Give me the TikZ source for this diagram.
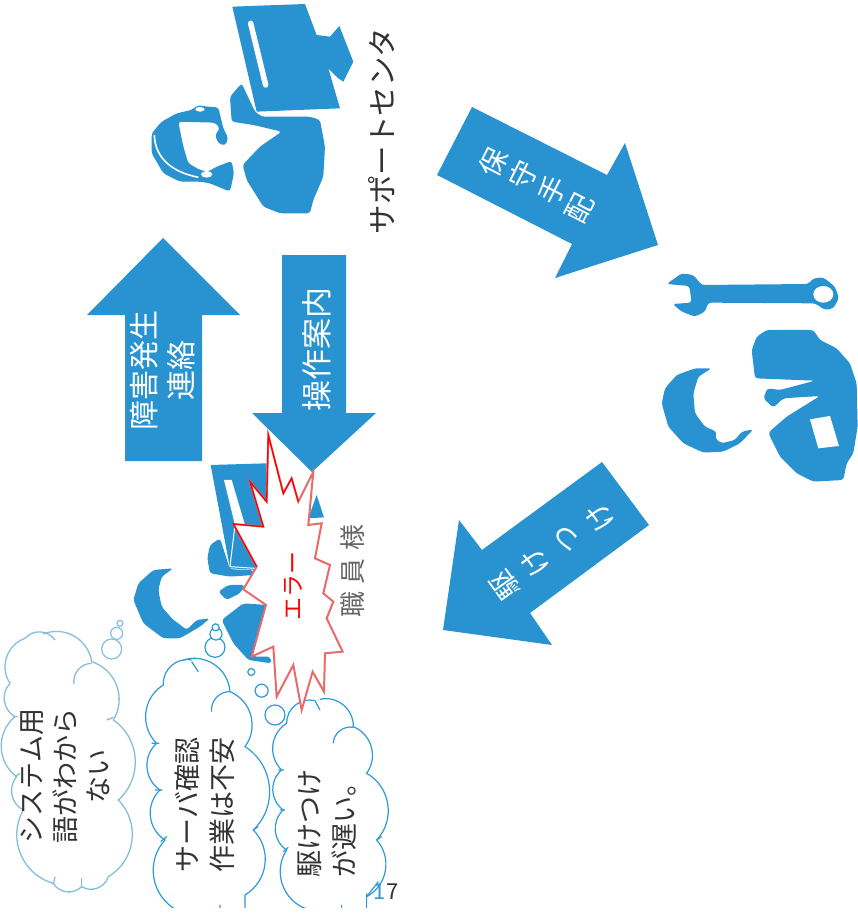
\documentclass[tikz,border=0pt]{standalone}
\usepackage{fontspec}
\setmainfont{Noto Sans CJK JP}
\definecolor{iconblue}{HTML}{2993D1}
\definecolor{cloudblue}{HTML}{2E9BD6}
\definecolor{paleblue}{HTML}{86BEDA}
\definecolor{burstpink}{HTML}{E96A6A}
\definecolor{inkgray}{HTML}{333333}
\newcommand{\fs}[1]{\fontsize{#1}{#1}\selectfont}
\tikzset{
  icon/.style={fill=iconblue,draw=none,rounded corners=3pt},
  lobe/.style={bend left=52,looseness=1.05},
  cloudline/.style={draw=cloudblue,line width=1.2pt,fill=none},
  paleline/.style={draw=paleblue,line width=1.3pt,fill=none},
  bubble/.style={circle,inner sep=0pt,fill=white,line width=1.2pt},
  labeltxt/.style={inner sep=0pt,rotate=90,align=center},
}
\begin{document}
\begin{tikzpicture}[x=1pt,y=-1pt]
\useasboundingbox (0,0) rectangle (858,920);
\fill[white] (0,0) rectangle (858,920);

% ---- big arrows
\fill[iconblue] (163,238) -- (240,315) -- (202,315) -- (202,461) -- (125,461) -- (125,315) -- (87,315) -- cycle;
\fill[iconblue] (282,255) -- (346,255) -- (346,413) -- (376,413) -- (312,472) -- (252,413) -- (282,413) -- cycle;
\fill[iconblue] (472,107) -- (607,175) -- (625,143) -- (658,245) -- (555,278) -- (572,244) -- (437,175) -- cycle;
\fill[iconblue] (602,462) -- (649,525) -- (530,613) -- (552,645) -- (443,630) -- (459,520) -- (482,550) -- cycle;

% ---- support centre icon
\begin{scope}[shift={(120,0)},x=.3333pt,y=-.3333pt]
\fill[iconblue] (337,20) -- (555,12) -- (590,105) -- (630,110) -- (658,78) -- (700,185) -- (670,245) -- (655,235) -- (625,205) -- (660,325) -- (410,335) -- cycle;
\draw[white,line width=5.5pt,line cap=round] (392,70) -- (437,255);
\fill[icon] (330,290) -- (365,250) -- (405,335) -- (425,350) -- (570,350) -- (600,360) -- (615,440) -- (610,530) -- (580,600) -- (570,640) -- (480,640) -- (430,620) -- (380,540) -- (368,495) -- (420,440) -- (485,395) -- (400,375) -- (335,365) -- cycle;
\fill[icon] (215,330) -- (235,315) -- (260,320) -- (295,322) -- (310,385) -- (325,415) -- (315,437) -- (295,430) -- (285,405) -- (300,385) -- (285,368) -- (175,365) -- (190,440) -- (205,490) -- (240,510) -- (265,515) -- (290,500) -- (335,483) -- (342,520) -- (330,575) -- (270,550) -- (240,545) -- (180,545) -- (130,520) -- (95,460) -- (95,400) -- (125,365) -- (170,340) -- cycle;
\fill[white] (260,523) ellipse (17 and 10);
\fill[white] (240,328) ellipse (14 and 7);
\draw[white,line width=1.6pt] (103,405) .. controls (105,470) and (150,515) .. (235,532);
\end{scope}

% ---- technician icon
\begin{scope}[shift={(640,260)},x=.3333pt,y=-.3333pt]
\fill[icon] (80,72) -- (125,40) -- (160,45) -- (185,75) -- (505,72) -- (520,55) -- (550,52) -- (585,80) -- (597,115) -- (580,145) -- (555,150) -- (525,130) -- (205,128) -- (195,155) -- (165,170) -- (125,155) -- (98,132) -- (155,128) -- (148,78) -- cycle;
\fill[white] (550,103) ellipse (30 and 25);
\fill[icon] (215,325) -- (165,325) -- (110,345) -- (75,385) -- (65,430) -- (85,500) -- (130,550) -- (190,578) -- (250,575) -- (300,550) -- (340,508) -- (305,515) -- (285,540) -- (245,550) -- (225,535) -- (230,515) -- (195,500) -- (165,460) -- (160,400) -- (175,350) -- cycle;
\fill[icon] (335,270) -- (350,230) -- (380,210) -- (520,210) -- (540,240) -- (590,265) -- (630,310) -- (650,370) -- (653,500) -- (640,580) -- (620,610) -- (610,660) -- (520,665) -- (470,640) -- (420,590) -- (395,540) -- (385,518) -- (440,470) -- (540,408) -- (430,415) -- (400,443) -- (370,415) -- (382,385) -- (420,390) -- (525,362) -- (345,355) -- cycle;
\fill[white] (510,478) -- (570,468) -- (597,558) -- (535,565) -- cycle;
\end{scope}

% ---- operator icon under the burst
\begin{scope}[shift={(120,430)},x=.3333pt,y=-.3333pt]
\fill[iconblue] (272,105) -- (440,100) -- (440,300) -- (410,420) -- (330,415) -- cycle;
\fill[white] (312,150) -- (335,150) -- (375,285) -- (345,285) -- cycle;
\draw[white,line width=1pt] (345,285) -- (330,410) -- (405,415);
\fill[icon] (300,325) -- (270,345) -- (262,385) -- (270,430) -- (330,440) -- (400,435) -- (400,420) -- (330,418) -- cycle;
\fill[icon] (295,485) -- (325,465) -- (375,465) -- (360,490) -- (320,510) -- cycle;
\fill[icon] (305,570) -- (370,520) -- (440,525) -- (400,680) -- (450,680) -- (455,700) -- (385,690) -- (340,640) -- cycle;
\fill[iconblue] (590,195) -- (612,262) -- (565,265) -- cycle;
\fill[icon] (160,415) -- (100,420) -- (55,460) -- (40,510) -- (70,580) -- (130,625) -- (180,625) -- (240,590) -- (270,565) -- (230,570) -- (200,600) -- (175,580) -- (160,570) -- (125,530) -- (115,480) -- (125,440) -- cycle;
\end{scope}

% ---- thought clouds and page number
\node[inner sep=0pt] (pageno) at (386,892) {\fs{22}\textcolor{cloudblue}{1}\textcolor{inkgray}{7}};
\begin{scope}[shift={(0,610)},x=.3333pt,y=-.3333pt]
% left cloud
\draw[paleline] (160,820) to[lobe] (70,600) to[lobe] (50,500) to[lobe] (45,320) to[lobe] (30,220) to[lobe] (75,85) to[lobe] (165,90);
\draw[paleline] (130,72) to[lobe] (275,155) to[lobe] (340,330) to[lobe] (355,570) to[lobe] (325,800) to[lobe] (245,830) to[lobe] (160,820);
\draw[paleline] (222,222) to[bend left=50] (275,160);
\draw[paleline] (320,330) -- (340,322);
\draw[paleline] (38,320) -- (55,320);
\draw[paleline] (45,500) -- (60,490);
\draw[paleline] (165,800) -- (160,825);
\draw[paleline] (245,805) -- (245,835);
\node[bubble,draw=paleblue,minimum size=20pt] (b1) at (335,117) {};
\node[bubble,draw=paleblue,minimum size=12pt] (b2) at (350,70) {};
\node[bubble,draw=paleblue,minimum size=6pt] (b3) at (360,40) {};
% middle cloud
\draw[cloudline] (530,900) to[lobe] (495,690) to[lobe] (480,540) to[lobe] (470,400) to[lobe] (490,225) to[lobe] (575,150);
\draw[cloudline] (550,150) to[lobe] (690,245) to[lobe] (735,410) to[lobe] (760,660) to[lobe] (735,855);
\draw[cloudline] (635,305) to[bend left=50] (690,245);
\draw[cloudline] (735,855) -- (735,900) (575,155) -- (595,185) (455,400) -- (478,400) (465,540) -- (487,540) (482,695) -- (500,680) (760,660) -- (775,650) (660,885) -- (660,900);
\node[bubble,draw=cloudblue,minimum size=20pt] (c1) at (645,112) {};
\node[bubble,draw=cloudblue,minimum size=12pt] (c2) at (648,72) {};
\node[bubble,draw=cloudblue,minimum size=7pt] (c3) at (647,52) {};
% right cloud
\draw[cloudline] (920,897) to[lobe] (860,720) to[lobe] (850,600) to[lobe] (845,480) to[lobe] (860,340) to[lobe] (945,272);
\draw[cloudline] (960,268) to[lobe] (1060,350) to[lobe] (1100,490) to[lobe] (1130,690) to[lobe] (1100,860);
\draw[cloudline] (1000,400) to[bend left=50] (1060,352);
\draw[cloudline] (1100,850) -- (1100,900) (1100,860) -- (1135,815) (945,272) -- (960,300) (835,480) -- (852,480) (840,600) -- (855,600) (850,725) -- (865,712) (1130,690) -- (1145,680) (1025,885) -- (1025,900);
\node[bubble,draw=cloudblue,minimum size=20pt] (d1) at (825,315) {};
\node[bubble,draw=cloudblue,minimum size=13pt] (d2) at (785,242) {};
\node[bubble,draw=cloudblue,minimum size=7pt] (d3) at (754,186) {};
\end{scope}
\fill[white] (0,908) rectangle (375,920);

% ---- burst
\begin{scope}[shift={(120,430)},x=.3333pt,y=-.3333pt]
\filldraw[fill=white,draw=burstpink,line width=2pt,line join=miter] (445,15) -- (490,190) -- (515,145) -- (535,215) -- (580,125) -- (565,285) -- (605,280) -- (585,385) -- (630,405) -- (610,490) -- (640,515) -- (620,565) -- (668,665) -- (615,670) -- (612,785) -- (578,725) -- (545,840) -- (520,705) -- (470,800) -- (460,650) -- (395,680) -- (438,525) -- (370,478) -- (410,410) -- (340,282) -- (430,290) -- (390,155) -- (440,215) -- cycle;
\draw[red,line width=1.3pt,line join=miter] (410,410) -- (340,282) -- (430,290) -- (390,155) -- (440,215) -- (445,15) -- (490,190) -- (515,145) -- (535,215);
\end{scope}

% ---- texts
\node[labeltxt,text=inkgray] (support) at (382,131) {\fs{29.5}サポートセンタ};
\node[labeltxt,text=white] (report) at (166,370) {\fs{30}\begin{tabular}{@{}c@{}}障害発生\\[3pt]連絡\end{tabular}};
\node[labeltxt,text=white] (guide) at (317,349) {\fs{31}操作案内};
\node[inner sep=0pt,rotate=63,text=white] (h1) at (493,162) {\fs{28}保};
\node[inner sep=0pt,rotate=63,text=white] (h2) at (523,175) {\fs{28}守};
\node[inner sep=0pt,rotate=63,text=white] (h3) at (552,190) {\fs{28}手};
\node[inner sep=0pt,rotate=63,text=white] (h4) at (580,208) {\fs{28}配};
\node[inner sep=0pt,rotate=125.6,text=white] (k1) at (505,585) {\fs{28}駆};
\node[inner sep=0pt,rotate=125.6,text=white] (k2) at (535,562) {\fs{28}け};
\node[inner sep=0pt,rotate=125.6,text=white] (k3) at (568,538) {\fs{28}つ};
\node[inner sep=0pt,rotate=125.6,text=white] (k4) at (600,517) {\fs{28}け};
\node[labeltxt,text=red] (err) at (293,586) {\fs{23}エラー};
\node[labeltxt,text=black!60] (staff) at (353,571) {\fs{26}\makebox[93pt][s]{職\hfill 員\hfill 様}};
\node[labeltxt,text=inkgray] (t1) at (69,776) {\fs{27}\begin{tabular}{@{}c@{}}システム用\\[3pt]語がわから\\[3pt]ない\end{tabular}};
\node[labeltxt,text=inkgray] (t2) at (208,805) {\fs{27}\begin{tabular}{@{}c@{}}サーバ確認\\[4pt]作業は不安\end{tabular}};
\node[labeltxt,text=inkgray] (t3) at (330,823) {\fs{27}\begin{tabular}{@{}c@{}}駆けつけ\\[4pt]が遅い。\end{tabular}};
\end{tikzpicture}
\end{document}
